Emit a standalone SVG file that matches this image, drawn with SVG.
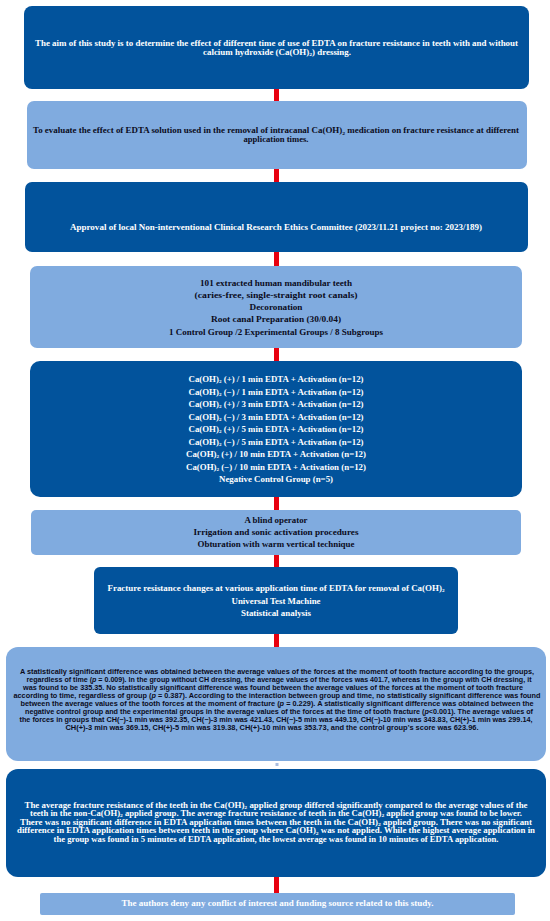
<svg xmlns="http://www.w3.org/2000/svg" width="550" height="921" viewBox="0 0 550 921">
<style>
.dk{fill:#02539c}
.lt{fill:#80abdf}
.arr{fill:#e8000f}
.tw{font-family:"Liberation Serif",serif;font-weight:bold;fill:#ffffff;text-anchor:middle;font-size:7.8px}
.tb{font-family:"Liberation Serif",serif;font-weight:bold;fill:#0b0b1c;text-anchor:middle;font-size:7.8px}
.tm{font-size:8.6px}
.ts{font-family:"Liberation Sans",Arial,sans-serif;font-weight:bold;fill:#0b0b1c;text-anchor:middle;font-size:6.9px}
.sb{font-size:5px}
</style>
<rect width="550" height="921" fill="#ffffff"/>
<g id="connectors">
<rect class="arr" x="274" y="88" width="5" height="13"/>
<rect class="arr" x="274" y="169" width="5" height="13"/>
<rect class="arr" x="274" y="252" width="5" height="14"/>
<rect class="arr" x="274" y="348" width="5" height="13"/>
<rect class="arr" x="274" y="497" width="5" height="13"/>
<rect class="arr" x="274" y="555" width="5" height="12"/>
<rect class="arr" x="274" y="634" width="5" height="13"/>
<rect x="275.5" y="763" width="3" height="3" fill="#a9bde0"/>
<rect class="arr" x="274" y="877" width="5" height="16"/>
</g>
<g id="node1">
<rect class="dk" x="24" y="6" width="505" height="83" rx="8"/>
<text class="tw" x="276.5" y="45.5" textLength="483" lengthAdjust="spacingAndGlyphs">The aim of this study is to determine the effect of different time of use of EDTA on fracture resistance in teeth with and without</text>
<text class="tw" x="277" y="54.5" textLength="148" lengthAdjust="spacingAndGlyphs">calcium hydroxide (Ca(OH)<tspan class="sb" dy="1.2">2</tspan><tspan dy="-1.2">)  dressing.</tspan></text>
</g>
<g id="node2">
<rect class="lt" x="27" y="101" width="500" height="68" rx="7"/>
<text class="tb" x="276" y="133.3" textLength="486" lengthAdjust="spacingAndGlyphs">To evaluate the effect of EDTA solution used in the removal of intracanal Ca(OH)<tspan class="sb" dy="1.2">2</tspan><tspan dy="-1.2"> medication on fracture resistance at different</tspan></text>
<text class="tb" x="276" y="141.6" textLength="65" lengthAdjust="spacingAndGlyphs">application times.</text>
</g>
<g id="node3">
<rect class="dk" x="25" y="182" width="503" height="70" rx="7"/>
<text class="tw" x="276" y="229.5" textLength="412" lengthAdjust="spacingAndGlyphs">Approval of local Non-interventional Clinical Research Ethics Committee (2023/11.21 project no: 2023/189)</text>
</g>
<g id="node4">
<rect class="lt" x="30" y="266" width="492" height="82" rx="7"/>
<text class="tb tm" x="276" y="286" textLength="152" lengthAdjust="spacingAndGlyphs">101 extracted human mandibular teeth</text>
<text class="tb tm" x="276" y="298.2" textLength="163" lengthAdjust="spacingAndGlyphs">(caries-free, single-straight root canals)</text>
<text class="tb tm" x="276" y="310.4" textLength="53" lengthAdjust="spacingAndGlyphs">Decoronation</text>
<text class="tb tm" x="276" y="322.4" textLength="130" lengthAdjust="spacingAndGlyphs">Root canal Preparation (30/0.04)</text>
<text class="tb tm" x="276" y="334.6" textLength="214" lengthAdjust="spacingAndGlyphs">1 Control Group /2  Experimental Groups / 8 Subgroups</text>
</g>
<g id="node5">
<rect class="dk" x="30" y="361" width="492" height="136" rx="10"/>
<text class="tw tm" x="276" y="382" textLength="175" lengthAdjust="spacingAndGlyphs">Ca(OH)<tspan class="sb" dy="1.2">2</tspan><tspan dy="-1.2"> (+) / 1 min EDTA + Activation (n=12)</tspan></text>
<text class="tw tm" x="276" y="394.5" textLength="175" lengthAdjust="spacingAndGlyphs">Ca(OH)<tspan class="sb" dy="1.2">2</tspan><tspan dy="-1.2"> (−) / 1 min EDTA + Activation (n=12)</tspan></text>
<text class="tw tm" x="276" y="407" textLength="175" lengthAdjust="spacingAndGlyphs">Ca(OH)<tspan class="sb" dy="1.2">2</tspan><tspan dy="-1.2"> (+) / 3 min EDTA + Activation (n=12)</tspan></text>
<text class="tw tm" x="276" y="419.5" textLength="175" lengthAdjust="spacingAndGlyphs">Ca(OH)<tspan class="sb" dy="1.2">2</tspan><tspan dy="-1.2"> (−) / 3 min EDTA + Activation (n=12)</tspan></text>
<text class="tw tm" x="276" y="432" textLength="175" lengthAdjust="spacingAndGlyphs">Ca(OH)<tspan class="sb" dy="1.2">2</tspan><tspan dy="-1.2"> (+) / 5 min EDTA + Activation (n=12)</tspan></text>
<text class="tw tm" x="276" y="444.5" textLength="175" lengthAdjust="spacingAndGlyphs">Ca(OH)<tspan class="sb" dy="1.2">2</tspan><tspan dy="-1.2"> (−) / 5 min EDTA + Activation (n=12)</tspan></text>
<text class="tw tm" x="276" y="457" textLength="180" lengthAdjust="spacingAndGlyphs">Ca(OH)<tspan class="sb" dy="1.2">2</tspan><tspan dy="-1.2"> (+) / 10 min EDTA + Activation (n=12)</tspan></text>
<text class="tw tm" x="276" y="469.5" textLength="180" lengthAdjust="spacingAndGlyphs">Ca(OH)<tspan class="sb" dy="1.2">2</tspan><tspan dy="-1.2"> (−) / 10 min EDTA + Activation (n=12)</tspan></text>
<text class="tw tm" x="276" y="482" textLength="114" lengthAdjust="spacingAndGlyphs">Negative Control Group (n=5)</text>
</g>
<g id="node6">
<rect class="lt" x="31" y="510" width="490" height="45" rx="5"/>
<text class="tb tm" x="276" y="522.7" textLength="63" lengthAdjust="spacingAndGlyphs">A blind operator</text>
<text class="tb tm" x="276" y="535" textLength="165" lengthAdjust="spacingAndGlyphs">Irrigation and  sonic activation procedures</text>
<text class="tb tm" x="276" y="547" textLength="157" lengthAdjust="spacingAndGlyphs">Obturation with warm vertical technique</text>
</g>
<g id="node7">
<rect class="dk" x="94" y="567" width="364" height="67" rx="6"/>
<text class="tw tm" x="276" y="591.2" textLength="337" lengthAdjust="spacingAndGlyphs">Fracture resistance changes at various application time of EDTA for removal of Ca(OH)<tspan class="sb" dy="1.2">2</tspan></text>
<text class="tw tm" x="276" y="603.7" textLength="89" lengthAdjust="spacingAndGlyphs">Universal Test Machine</text>
<text class="tw tm" x="276" y="615.5" textLength="70" lengthAdjust="spacingAndGlyphs">Statistical analysis</text>
</g>
<g id="node8">
<rect class="lt" x="6" y="647" width="540" height="114" rx="12"/>
<text class="ts" x="277" y="674.2" textLength="514" lengthAdjust="spacingAndGlyphs">A statistically significant difference was obtained between the average values of the forces at the moment of tooth fracture according to the groups,</text>
<text class="ts" x="279" y="682.2" textLength="505" lengthAdjust="spacingAndGlyphs">regardless of time (<tspan font-style="italic">p</tspan> = 0.009). In the group without CH dressing, the average values of the forces was 401.7, whereas in the group with CH dressing, it</text>
<text class="ts" x="273" y="690.2" textLength="500" lengthAdjust="spacingAndGlyphs">was found to be 335.35. No statistically significant difference was found between the average values of the forces at the moment of tooth fracture</text>
<text class="ts" x="277" y="698.2" textLength="527" lengthAdjust="spacingAndGlyphs">according to time, regardless of group (<tspan font-style="italic">p</tspan> = 0.387). According to the interaction between group and time, no statistically significant difference was found</text>
<text class="ts" x="277" y="706.2" textLength="513" lengthAdjust="spacingAndGlyphs">between the average values of the tooth forces at the moment of fracture (<tspan font-style="italic">p</tspan> = 0.229). A statistically significant difference was obtained between the</text>
<text class="ts" x="279" y="714.2" textLength="508" lengthAdjust="spacingAndGlyphs">negative control group and the experimental  groups in the average values of the forces at the time of tooth fracture (<tspan font-style="italic">p</tspan>&lt;0.001). The average values of</text>
<text class="ts" x="276" y="722.2" textLength="513" lengthAdjust="spacingAndGlyphs">the forces in groups that CH(−)-1 min was 392.35, CH(−)-3 min was 421.43, CH(−)-5 min was 449.19, CH(−)-10 min was 343.83, CH(+)-1 min was 299.14,</text>
<text class="ts" x="272" y="730.2" textLength="413" lengthAdjust="spacingAndGlyphs">CH(+)-3 min was 369.15, CH(+)-5 min was 319.38, CH(+)-10 min was 353.73, and the control group's score was 623.96.</text>
</g>
<g id="node9">
<rect class="dk" x="6" y="769" width="540" height="108" rx="12"/>
<text class="tw" x="276" y="807.5" textLength="503" lengthAdjust="spacingAndGlyphs">The average fracture resistance of the teeth in the Ca(OH)<tspan class="sb" dy="1.2">2</tspan><tspan dy="-1.2"> applied group differed significantly compared to the average values of the</tspan></text>
<text class="tw" x="276" y="816.1" textLength="492" lengthAdjust="spacingAndGlyphs">teeth in the non-Ca(OH)<tspan class="sb" dy="1.2">2</tspan><tspan dy="-1.2"> applied group. The average fracture resistance of teeth in the Ca(OH)</tspan><tspan class="sb" dy="1.2">2</tspan><tspan dy="-1.2"> applied group was found to be lower.</tspan></text>
<text class="tw" x="276" y="824.7" textLength="512" lengthAdjust="spacingAndGlyphs">There was no significant difference in EDTA application times between the teeth in the Ca(OH)<tspan class="sb" dy="1.2">2</tspan><tspan dy="-1.2"> applied group. There was no significant</tspan></text>
<text class="tw" x="276" y="833.3" textLength="518" lengthAdjust="spacingAndGlyphs">difference in EDTA application times between teeth in the group where Ca(OH)<tspan class="sb" dy="1.2">2</tspan><tspan dy="-1.2"> was not applied. While the highest average application in</tspan></text>
<text class="tw" x="276" y="842" textLength="445" lengthAdjust="spacingAndGlyphs">the group was found in 5 minutes of EDTA application, the lowest average was found in 10 minutes of EDTA application.</text>
</g>
<g id="node10">
<rect class="lt" x="40" y="893" width="475" height="22" rx="2"/>
<text class="tw" x="277.5" y="906" textLength="312" lengthAdjust="spacingAndGlyphs">The authors deny any conflict of interest and funding source related to this study.</text>
</g>
</svg>
